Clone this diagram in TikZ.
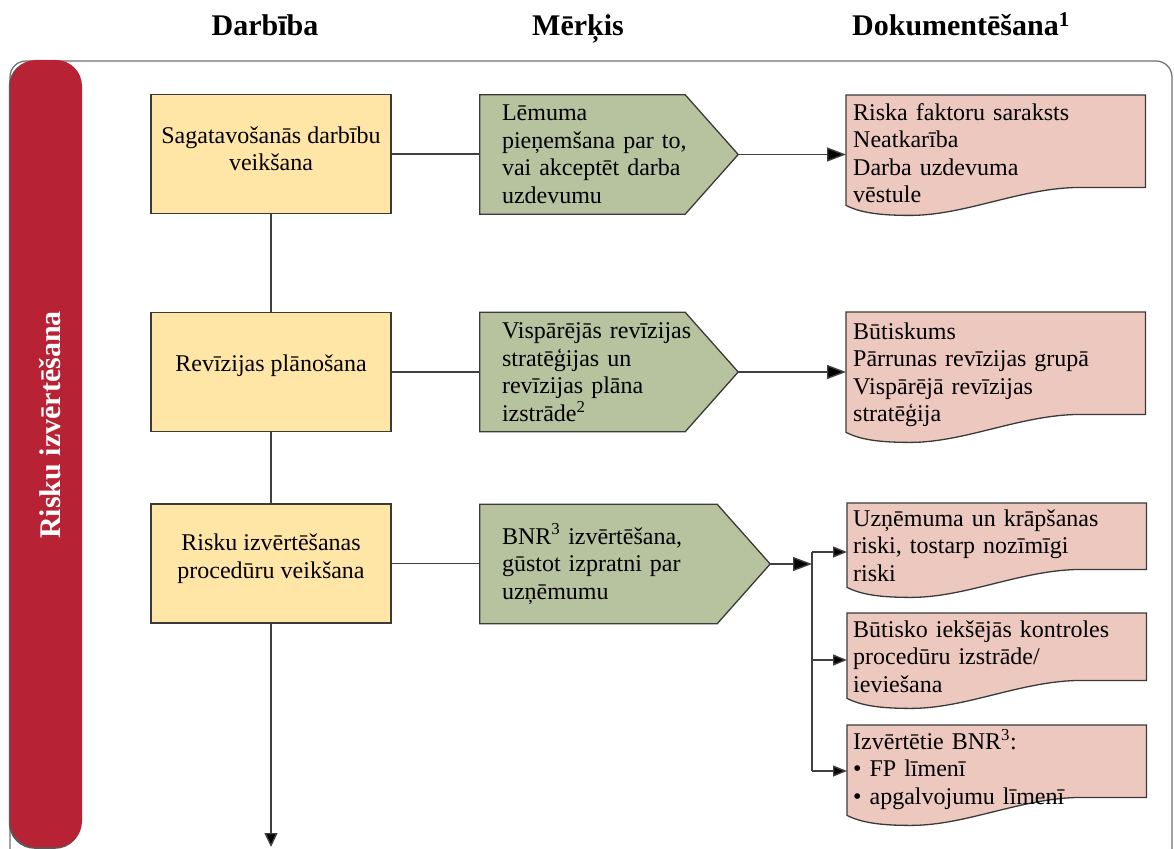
\documentclass[tikz,border=0pt]{standalone}
\usepackage{fontspec}
\setmainfont{Liberation Serif}
\usetikzlibrary{arrows.meta,calc,backgrounds}
\pgfdeclarelayer{back}
\pgfsetlayers{back,background,main}

\definecolor{barred}{HTML}{B72234}
\definecolor{actfill}{HTML}{FFE6A6}
\definecolor{goalfill}{HTML}{B7C29F}
\definecolor{docfill}{HTML}{EDC8BF}
\definecolor{edgegray}{HTML}{3A3A3A}
\definecolor{linkgray}{HTML}{404040}
\definecolor{framegray}{HTML}{6E6E6E}

\begin{document}
\begin{tikzpicture}[x=1pt,y=-1pt,
  every node/.style={font=\fontsize{24pt}{27.5pt}\selectfont, inner sep=0pt},
  colhead/.style={font=\bfseries\fontsize{30pt}{34pt}\selectfont, anchor=base},
  actbox/.style={draw=edgegray, line width=1.3pt, fill=actfill,
    minimum width=240pt, minimum height=119pt},
  acttext/.style={align=center},
  goalbox/.style={minimum height=119pt, inner xsep=22pt, align=left},
  shapeline/.style={draw=edgegray, line width=1.3pt},
  docbox/.style={minimum width=299pt, anchor=north west},
  doctext/.style={anchor=north west, text width=285pt, align=left},
  link/.style={draw=linkgray, line width=1.4pt},
  bigtip/.style={-{Triangle[length=19pt,width=14pt,fill=black]}},
  smalltip/.style={-{Triangle[length=14pt,width=11pt,fill=black]}}
]
\useasboundingbox (0,0) rectangle (1174,848);

% column headings
\node[colhead] (hd) at (265,36) {Darbība};
\node[colhead] (hm) at (578,36) {Mērķis};
\node[colhead] (hk) at (961,36) {Dokumentēšana\textsuperscript{1}};

% phase frame and side bar
\begin{pgfonlayer}{back}
  \draw[framegray, line width=1.2pt, rounded corners=16pt] (10,61) rectangle (1172,900);
  \fill[black!65, rounded corners=26pt] (8.8,60.5) rectangle (81,848.8);
  \fill[barred, rounded corners=26pt] (10.3,60) rectangle (82,847.3);
\end{pgfonlayer}
\node[rotate=90, anchor=base, text=white, font=\bfseries\fontsize{30pt}{34pt}\selectfont]
  (bartitle) at (60,425) {Risku izvērtēšana};

% activities
\node[actbox] (a1) at (271,154) {};
\node[actbox] (a2) at (271,372) {};
\node[actbox] (a3) at (271,563.5) {};
\node[acttext] (a1t) at ([yshift=5pt]a1.center) {Sagatavošanās darbību\\veikšana};
\node[acttext] (a2t) at ([yshift=6pt]a2.center) {Revīzijas plānošana};
\node[acttext] (a3t) at ([yshift=5pt]a3.center) {Risku izvērtēšanas\\procedūru veikšana};

% goals
\node[goalbox, minimum width=258pt, text width=214pt] (g1) at (609,154.5)
  {Lēmuma\\pieņemšana par to,\\vai akceptēt darba\\uzdevumu};
\node[goalbox, minimum width=258pt, text width=214pt] (g2) at (609,372)
  {Vispārējās revīzijas\\stratēģijas un\\revīzijas plāna\\izstrāde\textsuperscript{2}};
\node[goalbox, minimum width=290pt, text width=246pt] (g3) at (625,564)
  {BNR\textsuperscript{3} izvērtēšana,\\gūstot izpratni par\\uzņēmumu};

% documents
\node[docbox, minimum height=110pt] (d1) at (846,95) {};
\node[docbox, minimum height=120pt] (d2) at (846,312) {};
\node[docbox, minimum height=84pt] (d3) at (847,503) {};
\node[docbox, minimum height=85pt] (d4) at (847,613) {};
\node[docbox, minimum height=90pt] (d5) at (847,725) {};
\node[doctext] (d1t) at ($(d1.north west)+(7,6)$)
  {\strut Riska faktoru saraksts\\Neatkarība\\Darba uzdevuma\\vēstule};
\node[doctext] (d2t) at ($(d2.north west)+(7,8)$)
  {\strut Būtiskums\\Pārrunas revīzijas grupā\\Vispārējā revīzijas\\stratēģija};
\node[doctext] (d3t) at ($(d3.north west)+(6,4)$)
  {\strut Uzņēmuma un krāpšanas\\riski, tostarp nozīmīgi\\riski};
\node[doctext] (d4t) at ($(d4.north west)+(6,5)$)
  {\strut Būtisko iekšējās kontroles\\procedūru izstrāde/\\ieviešana};
\node[doctext] (d5t) at ($(d5.north west)+(6,4)$)
  {\strut Izvērtētie BNR\textsuperscript{3}:\\• FP līmenī\\• apgalvojumu līmenī};

% outlines of the goal and document shapes
\begin{pgfonlayer}{background}
  \foreach \g in {g1,g2,g3}{
    \path[shapeline, fill=goalfill]
      (\g.north west) -- ([xshift=-53pt]\g.north east) -- (\g.east)
      -- ([xshift=-53pt]\g.south east) -- (\g.south west) -- cycle;
  }
  \foreach \d in {d1,d2,d3,d4,d5}{
    \path[shapeline, fill=docfill]
      (\d.north west) -- (\d.north east) -- ($(\d.south east)+(0,-18)$)
      -- ($(\d.south west)+(235,-18)$)
      .. controls ($(\d.south west)+(175,-18)$) and ($(\d.south west)+(120,10)$)
      .. ($(\d.south west)+(64,10)$)
      .. controls ($(\d.south west)+(32,10)$) and ($(\d.south west)+(14,7)$)
      .. (\d.south west) -- cycle;
  }
\end{pgfonlayer}

% flow between activities
\coordinate (flowend) at (271,847);
\draw[link] (a1) -- (a2);
\draw[link] (a2) -- (a3);
\draw[link, -{Triangle[length=14pt,width=13pt,fill=black]}] (a3) -- (flowend);

% activities to goals
\draw[link] (a1.east) -- (a1.east -| g1.west);
\draw[link] (a2.east) -- (a2.east -| g2.west);
\draw[link] (a3.east) -- (a3.east -| g3.west);

% goals to documents
\draw[link, bigtip] (g1.east) -- (g1.east -| d1.west);
\draw[link, bigtip] (g2.east) -- (g2.east -| d2.west);

\coordinate (jt) at (812,552);
\coordinate (jm) at (812,660);
\coordinate (jb) at (812,771);
\draw[link, bigtip] (g3.east) -- (g3.east -| jt);
\draw[link] (jt) -- (jb);
\draw[link, smalltip] (jt) -- (jt -| d3.west);
\draw[link, smalltip] (jm) -- (jm -| d4.west);
\draw[link, smalltip] (jb) -- (jb -| d5.west);
\end{tikzpicture}
\end{document}
